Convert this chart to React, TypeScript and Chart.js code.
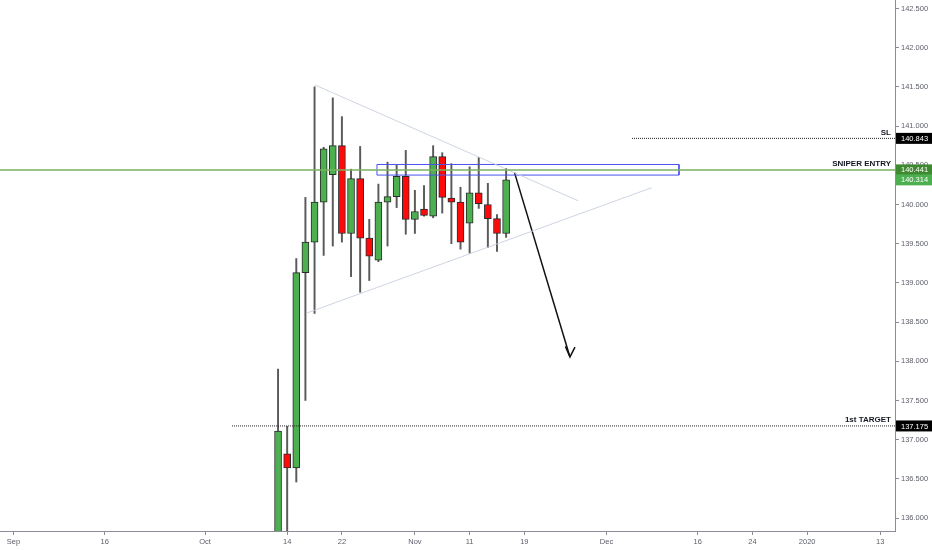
import React, { useEffect, useRef } from "react";
import { Chart, registerables } from "chart.js";

Chart.register(...registerables);

// ---- Data ----
// trading-day index counted from Mon 2 Sep 2019 (weekdays only)
const dayIndex = [29, 30, 31, 32, 33, 34, 35, 36, 37, 38, 39, 40, 41, 42, 43, 44, 45, 46, 47, 48, 49, 50, 51, 52, 53, 54];
const opens = [135.6, 136.82, 136.64, 139.13, 139.52, 140.03, 140.38, 140.75, 139.63, 140.33, 139.57, 139.29, 140.03, 140.1, 140.36, 139.81, 139.94, 139.85, 140.61, 140.08, 140.03, 139.76, 140.15, 140.0, 139.82, 139.63];
const highs = [137.9, 137.17, 139.31, 140.09, 141.5, 140.73, 141.36, 141.12, 140.45, 140.74, 139.81, 140.26, 140.54, 140.5, 140.69, 140.18, 140.24, 140.75, 140.66, 140.52, 140.22, 140.48, 140.6, 140.27, 139.87, 140.46];
const lows = [135.5, 135.7, 136.46, 137.5, 138.61, 139.35, 139.47, 139.52, 139.08, 138.88, 139.03, 139.27, 139.47, 139.96, 139.62, 139.63, 139.85, 139.83, 139.89, 139.5, 139.43, 139.38, 139.95, 139.45, 139.4, 139.58];
const closes = [137.11, 136.64, 139.13, 139.52, 140.03, 140.71, 140.75, 139.63, 140.33, 139.57, 139.34, 140.03, 140.1, 140.36, 139.81, 139.91, 139.86, 140.61, 140.09, 140.03, 139.52, 140.15, 140.01, 139.82, 139.63, 140.314];

const xTickIdx = [0, 10, 21, 30, 36, 44, 50, 56, 65, 75, 81, 87, 95];
const xTickLabels = ["Sep", "16", "Oct", "14", "22", "Nov", "11", "19", "Dec", "16", "24", "2020", "13"];
const yTicks = [136, 136.5, 137, 137.5, 138, 138.5, 139, 139.5, 140, 140.5, 141, 141.5, 142, 142.5];

const xMin = -1.48;
const xMax = 96.63;
const yMin = 135.835;
const yMax = 142.608;

// horizontal levels
const levelNames = ["SL", "SNIPER ENTRY", "1st TARGET"];
const levelValues = [140.843, 140.441, 137.175];
const levelStarts = [67.8, -1.48, 23.95];
const levelBoxColors = ["#000000", "#3f8a31", "#000000"];
const lastPrice = 140.314;

// triangle (idx, price)
const triUpperX = [33.05, 61.88];
const triUpperY = [141.524, 140.048];
const triLowerX = [32.16, 69.96];
const triLowerY = [138.616, 140.214];

// blue zone box
const zoneX = [39.84, 72.95];
const zoneY = [140.51, 140.375];

// arrow
const arrowX = [54.92, 61.0];
const arrowY = [140.406, 138.055];
const arrowHeadX = [60.5, 61.0, 61.55];
const arrowHeadY = [138.19, 138.055, 138.18];

const FONT = '"Liberation Sans", Arial, sans-serif';

export default function App() {
  const ref = useRef<HTMLCanvasElement | null>(null);

  useEffect(() => {
    if (!ref.current) return;

    const wickData = dayIndex.map((d, i) => ({ x: d, y: [lows[i], highs[i]] }));
    const bodyData = dayIndex.map((d, i) => ({ x: d, y: [opens[i], closes[i]] }));
    const bodyColors = dayIndex.map((_, i) => (closes[i] >= opens[i] ? "#4caf50" : "#ff0a0a"));

    const lineDs = (data: { x: number; y: number }[], color: string, width: number, dash: number[] = []) => ({
      type: "line" as const,
      data,
      borderColor: color,
      borderWidth: width,
      borderDash: dash,
      pointRadius: 0,
      fill: false,
      tension: 0,
      order: 0,
    });

    const levelDatasets = levelValues.map((v, i) =>
      lineDs(
        [
          { x: levelStarts[i], y: v },
          { x: xMax, y: v },
        ],
        i === 1 ? "rgba(120,178,95,0.75)" : "#222222",
        i === 1 ? 2 : 1,
        i === 1 ? [] : [1, 1]
      )
    );

    const overlayPlugin = {
      id: "overlay",
      afterDatasetsDraw(chart: any) {
        const ctx = chart.ctx;
        const ys = chart.scales.y;
        const area = chart.chartArea;
        ctx.save();
        ctx.font = `bold 8px ${FONT}`;
        ctx.fillStyle = "#131722";
        ctx.textAlign = "right";
        ctx.textBaseline = "bottom";
        levelNames.forEach((n, i) => {
          ctx.fillText(n, area.right - 4, ys.getPixelForValue(levelValues[i]) - 2);
        });
        ctx.restore();
      },
      afterDraw(chart: any) {
        const ctx = chart.ctx;
        const ys = chart.scales.y;
        const area = chart.chartArea;
        const boxes = levelValues.map((v, i) => ({ v, c: levelBoxColors[i] }));
        boxes.push({ v: lastPrice, c: "#4caf50" });
        ctx.save();
        ctx.font = `7.5px ${FONT}`;
        ctx.textAlign = "left";
        ctx.textBaseline = "middle";
        boxes.forEach((b) => {
          const py = ys.getPixelForValue(b.v);
          ctx.fillStyle = b.c;
          ctx.fillRect(area.right + 1, py - 5.5, 40, 11);
          ctx.fillStyle = "#ffffff";
          ctx.fillText(b.v.toFixed(3), area.right + 6, py + 0.5);
        });
        ctx.restore();
      },
    };

    const chart = new Chart(ref.current, {
      type: "bar",
      data: {
        datasets: [
          ...levelDatasets,
          lineDs(
            triUpperX.map((x, i) => ({ x, y: triUpperY[i] })),
            "rgba(200,207,224,0.9)",
            1
          ),
          lineDs(
            triLowerX.map((x, i) => ({ x, y: triLowerY[i] })),
            "rgba(200,207,224,0.9)",
            1
          ),
          lineDs(
            [
              { x: zoneX[0], y: zoneY[0] },
              { x: zoneX[1], y: zoneY[0] },
              { x: zoneX[1], y: zoneY[1] },
              { x: zoneX[0], y: zoneY[1] },
              { x: zoneX[0], y: zoneY[0] },
            ],
            "#4a52f0",
            1
          ),
          lineDs(
            arrowX.map((x, i) => ({ x, y: arrowY[i] })),
            "#111111",
            1.5
          ),
          lineDs(
            arrowHeadX.map((x, i) => ({ x, y: arrowHeadY[i] })),
            "#111111",
            1.5
          ),
          {
            type: "bar" as const,
            data: bodyData as any,
            backgroundColor: bodyColors,
            borderColor: "#2a2a2a",
            borderWidth: 1,
            borderSkipped: false,
            barThickness: 7,
            grouped: false,
            order: 1,
          },
          {
            type: "bar" as const,
            data: wickData as any,
            backgroundColor: "#5a5a5a",
            borderWidth: 0,
            barThickness: 1.3,
            grouped: false,
            order: 2,
          },
        ] as any,
      },
      options: {
        animation: false,
        responsive: true,
        maintainAspectRatio: false,
        layout: { padding: 0 },
        plugins: {
          legend: { display: false },
          tooltip: { enabled: false },
        },
        scales: {
          x: {
            type: "linear",
            min: xMin,
            max: xMax,
            offset: false,
            afterBuildTicks: (s: any) => {
              s.ticks = xTickIdx.map((v) => ({ value: v }));
            },
            afterFit: (s: any) => {
              s.height = 19;
              s.paddingLeft = 0;
              s.paddingRight = 0;
              s.paddingTop = 0;
              s.paddingBottom = 0;
            },
            ticks: {
              autoSkip: false,
              maxRotation: 0,
              padding: 2,
              color: "#5d606b",
              font: { family: FONT, size: 7.5 },
              callback: (v: any) => {
                const k = xTickIdx.indexOf(Number(v));
                return k >= 0 ? xTickLabels[k] : "";
              },
            },
            grid: { display: true, drawOnChartArea: false, drawTicks: true, tickLength: 4, color: "#8a8d96", offset: false },
            border: { display: true, color: "#8a8d96" },
          },
          y: {
            type: "linear",
            position: "right",
            min: yMin,
            max: yMax,
            afterBuildTicks: (s: any) => {
              s.ticks = yTicks.map((v) => ({ value: v }));
            },
            afterFit: (s: any) => {
              s.width = 37;
              s.paddingLeft = 0;
              s.paddingRight = 0;
              s.paddingTop = 0;
              s.paddingBottom = 0;
            },
            ticks: {
              padding: 2,
              color: "#5d606b",
              font: { family: FONT, size: 7.5 },
              callback: (v: any) => Number(v).toFixed(3),
            },
            grid: { display: true, drawOnChartArea: false, drawTicks: true, tickLength: 4, color: "#8a8d96" },
            border: { display: true, color: "#8a8d96" },
          },
        },
      } as any,
      plugins: [overlayPlugin],
    });

    return () => chart.destroy();
  }, []);

  return (
    <div style={{ position: "fixed", left: 0, top: 0, width: 932, height: 550, background: "#ffffff" }}>
      <canvas ref={ref} />
    </div>
  );
}
